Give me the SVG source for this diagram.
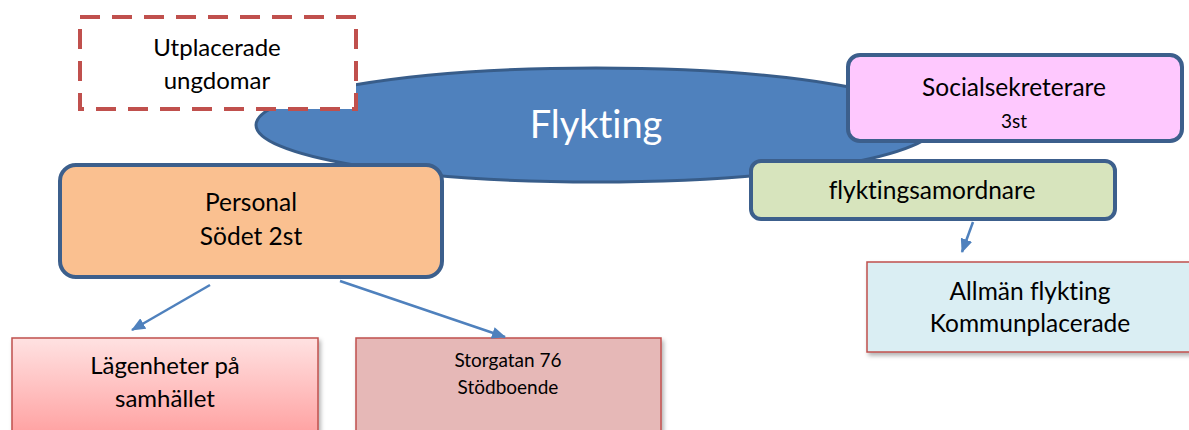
<svg xmlns="http://www.w3.org/2000/svg" width="1189" height="430" viewBox="0 0 1189 430">
<style>
text{font-family:Lato,"Open Sans","Liberation Sans",sans-serif;fill:#000;text-anchor:middle;font-variant-ligatures:none}
.b{stroke:#3C5F8C;stroke-width:4}
.r{stroke:#C0504D;stroke-width:1.5}
.c{stroke:#4F81BD;stroke-width:2.5;fill:none;marker-end:url(#ah)}
</style>
<defs>
<marker id="ah" viewBox="0 0 14 12" refX="13" refY="6" markerWidth="14" markerHeight="12" markerUnits="userSpaceOnUse" orient="auto"><path d="M0,0L14,6L0,12z" fill="#4F81BD"/></marker>
<linearGradient id="g1" x1="0" y1="0" x2="0" y2="1"><stop offset="0" stop-color="#FFE2E2"/><stop offset="1" stop-color="#FF9F9F"/></linearGradient>
<filter id="sh" x="-5%" y="-5%" width="115%" height="120%"><feDropShadow dx="2" dy="3" stdDeviation="2" flood-color="#000" flood-opacity="0.3"/></filter>
</defs>
<g id="ellipse"><ellipse cx="596" cy="125" rx="340" ry="57" fill="#4F81BD" stroke="#385D8A" stroke-width="3"/><text x="596" y="138" font-size="38" style="fill:#fff">Flykting</text></g>
<g id="utplacerade"><rect x="80" y="17" width="276" height="92" fill="#fff" stroke="#C0504D" stroke-width="4" stroke-dasharray="20,12"/><text x="217" y="56" font-size="24">Utplacerade</text><text x="217" y="89" font-size="24">ungdomar</text></g>
<g id="social"><rect x="848" y="55" width="334" height="86" rx="12" fill="#FEC8FE" class="b"/><text x="1014" y="96" font-size="24.5">Socialsekreterare</text><text x="1014" y="128" font-size="19">3st</text></g>
<g id="samordnare"><rect x="751" y="161" width="364" height="58" rx="10" fill="#D7E4BD" class="b"/><text x="932" y="199" font-size="24.5">flyktingsamordnare</text></g>
<g id="personal"><rect x="60" y="165" width="382" height="112" rx="16" fill="#FAC090" class="b"/><text x="251" y="211" font-size="24.5">Personal</text><text x="251" y="245" font-size="24.5">Södet 2st</text></g>
<g id="lagenheter"><rect x="12" y="338" width="306" height="100" fill="url(#g1)" class="r" filter="url(#sh)"/><text x="165" y="374" font-size="24">Lägenheter på</text><text x="165" y="407" font-size="24">samhället</text></g>
<g id="storgatan"><rect x="356" y="338" width="305" height="100" fill="#E6B8B7" class="r" filter="url(#sh)"/><text x="508" y="367" font-size="19">Storgatan 76</text><text x="508" y="394" font-size="19">Stödboende</text></g>
<g id="allman"><rect x="867" y="262" width="330" height="90" fill="#DAEEF3" class="r" filter="url(#sh)"/><text x="1030" y="300" font-size="24.5">Allmän flykting</text><text x="1030" y="332" font-size="24.5">Kommunplacerade</text></g>
<g id="connectors">
<path class="c" d="M210,285L132,330"/>
<path class="c" d="M340,281L505,337"/>
<path class="c" d="M973,222L962,252"/>
</g>
</svg>
